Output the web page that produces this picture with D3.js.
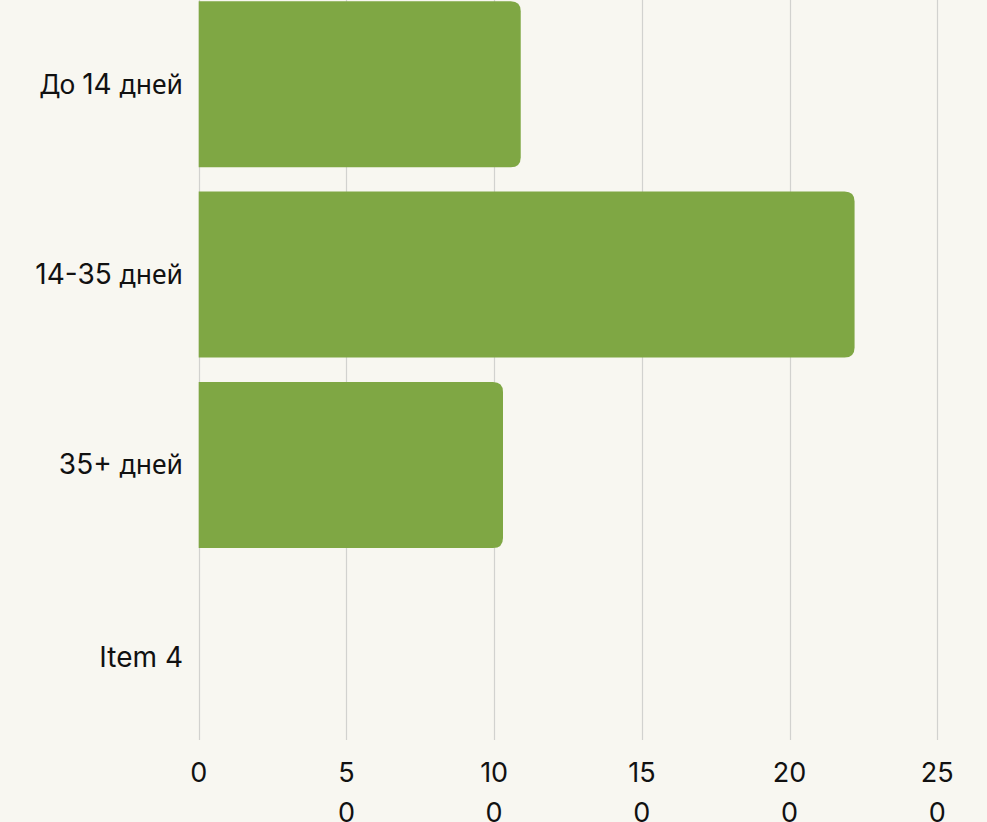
<!DOCTYPE html>
<html><head><meta charset="utf-8">
<script src="https://cdn.jsdelivr.net/npm/d3@7"></script>
<style>
html,body{margin:0;padding:0;background:#f8f7f1;}
svg{display:block;}
</style></head>
<body>
<svg id="chart" width="987" height="822"></svg>
<script>
const categories = ["До 14 дней", "14-35 дней", "35+ дней", "Item 4"];
const values = [109, 222, 103, null];
const tickValues = [0, 50, 100, 150, 200, 250];
const tickLabels = ["0", "5\n0", "10\n0", "15\n0", "20\n0", "25\n0"];

const W = 987, H = 822;
const svg = d3.select("#chart");
svg.append("rect").attr("width", W).attr("height", H).attr("fill", "#f8f7f1");

const x = d3.scaleLinear().domain([0, 250]).range([198.7, 937.3]);
const y = d3.scaleBand().domain(categories).range([-11, 750.5]).paddingInner(0.128).paddingOuter(0.064);

// gridlines
svg.append("g").selectAll("line").data(tickValues).join("line")
  .attr("x1", d => Math.round(x(d)) + 0.5).attr("x2", d => Math.round(x(d)) + 0.5)
  .attr("y1", 0).attr("y2", 740)
  .attr("stroke", "#d2d2cf").attr("stroke-width", 1.2);

// bars with rounded right corners
const r = 10;
function barPath(d, i) {
  const x0 = x(0), x1 = x(d), y0 = y(categories[i]), h = y.bandwidth();
  const rr = Math.min(r, (x1 - x0) / 2, h / 2);
  return `M${x0},${y0}H${x1 - rr}Q${x1},${y0} ${x1},${y0 + rr}V${y0 + h - rr}Q${x1},${y0 + h} ${x1 - rr},${y0 + h}H${x0}Z`;
}
svg.append("g").selectAll("path").data(values.map((v, i) => ({v, i})).filter(d => d.v != null)).join("path")
  .attr("d", d => barPath(d.v, d.i))
  .attr("fill", "#7fa744");

// split a label into runs: Cyrillic vs other
function runs(s) {
  const out = [];
  for (const ch of s) {
    const cyr = /[\u0400-\u04FF]/.test(ch);
    const type = ch === " " && out.length ? out[out.length - 1].cyr : cyr;
    if (out.length && out[out.length - 1].cyr === type) out[out.length - 1].t += ch;
    else out.push({cyr: type, t: ch});
  }
  return out;
}

// y labels
svg.append("g").selectAll("text").data(categories).join("text")
  .attr("x", 183).attr("y", (d, i) => y(d) + y.bandwidth() / 2 + (i === 3 ? 11.5 : 9.5))
  .attr("text-anchor", "end")
  .attr("font-size", 26)
  .attr("fill", "#111")
  .each(function(d) {
    d3.select(this).selectAll("tspan").data(runs(d)).join("tspan")
      .attr("font-family", r => r.cyr ? "'Noto Sans', sans-serif" : "Inter, sans-serif")
      .attr("font-size", r => r.cyr ? 26.5 : 28)
      .style("white-space", "pre")
      .text(r => r.t);
  });

// x labels
const xl = svg.append("g").selectAll("text").data(tickValues).join("text")
  .attr("x", d => x(d)).attr("y", 782)
  .attr("text-anchor", "middle")
  .attr("font-family", "Inter, sans-serif")
  .attr("font-size", 27)
  .attr("fill", "#111");
xl.each(function(d, i) {
  const lines = tickLabels[i].split("\n");
  d3.select(this).selectAll("tspan").data(lines).join("tspan")
    .attr("x", x(d)).attr("dy", (l, j) => j === 0 ? 0 : 40)
    .text(l => l);
});
</script>
</body></html>
